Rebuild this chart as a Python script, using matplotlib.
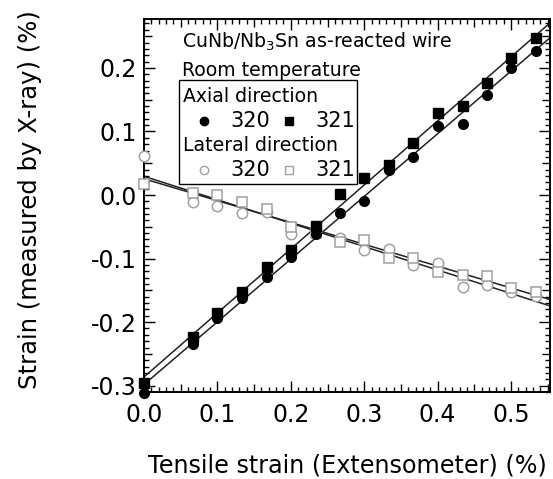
import numpy as np
import matplotlib
matplotlib.use("Agg")
import matplotlib.pyplot as plt
from matplotlib.ticker import MultipleLocator, FormatStrFormatter
from matplotlib.patches import Rectangle

plt.rcParams['font.family'] = ['DejaVu Sans']

# Tensile strain from the extensometer (%)
ext_strain = [0.0, 0.067, 0.100, 0.134, 0.167, 0.200, 0.234, 0.267,
              0.300, 0.334, 0.367, 0.400, 0.434, 0.467, 0.500, 0.534]

# Axial lattice strain by X-ray (%)
axial_320 = [-0.312, -0.235, -0.194, -0.162, -0.129, -0.098, -0.062, -0.028,
             -0.010, 0.040, 0.060, 0.108, 0.112, 0.157, 0.200, 0.227]
axial_321 = [-0.296, -0.224, -0.186, -0.153, -0.113, -0.087, -0.049, 0.002,
             0.026, 0.047, 0.082, 0.129, 0.140, 0.176, 0.216, 0.247]

# Lateral lattice strain by X-ray (%)
lateral_320 = [0.062, -0.011, -0.017, -0.028, -0.026, -0.062, -0.056, -0.067,
               -0.086, -0.085, -0.110, -0.107, -0.144, -0.142, -0.152, -0.159]
lateral_321 = [0.017, 0.003, 0.000, -0.011, -0.022, -0.050, -0.060, -0.074,
               -0.071, -0.099, -0.099, -0.121, -0.126, -0.128, -0.147, -0.152]

x_ticks = [0.0, 0.1, 0.2, 0.3, 0.4, 0.5]
y_ticks = [-0.3, -0.2, -0.1, 0.0, 0.1, 0.2]

fig = plt.figure(figsize=(5.53, 4.79), dpi=100)
ax = fig.add_axes([144 / 553, 87 / 479, 406 / 553, 373 / 479])
ax.set_xlim(0.0, 0.553)
ax.set_ylim(-0.310, 0.277)

x = np.array(ext_strain)
xfit = np.array(ax.get_xlim())
gray = '#a0a0a0'

# linear fits
for series in (axial_320, axial_321, lateral_320, lateral_321):
    k, b = np.polyfit(x, series, 1)
    ax.plot(xfit, k * xfit + b, color='#222222', lw=1.1, zorder=2)

ax.plot(x, axial_320, 'o', color='black', ms=7, clip_on=False, zorder=4)
ax.plot(x, axial_321, 's', color='black', ms=6.5, clip_on=False, zorder=4)
ax.plot(x, lateral_320, 'o', mfc='white', mec=gray, mew=1.1, ms=7.5,
        clip_on=False, zorder=3)
ax.plot(x, lateral_321, 's', mfc='white', mec=gray, mew=1.1, ms=7.5,
        clip_on=False, zorder=3)

# axes styling
for s in ax.spines.values():
    s.set_linewidth(1.4)
ax.set_xticks(x_ticks)
ax.set_yticks(y_ticks)
ax.xaxis.set_major_formatter(FormatStrFormatter('%.1f'))
ax.yaxis.set_major_formatter(FormatStrFormatter('%.1f'))
ax.xaxis.set_minor_locator(MultipleLocator(0.01))
ax.yaxis.set_minor_locator(MultipleLocator(0.01))
ax.tick_params(which='both', direction='in', top=True, right=True,
               labelsize=17, width=1.0)
ax.tick_params(which='major', length=8)
ax.tick_params(which='minor', length=3.5)
ax.tick_params(axis='x', which='major', pad=8)
ax.tick_params(axis='y', which='major', pad=5)

fig.canvas.draw()
for axis in (ax.xaxis, ax.yaxis):
    locs = axis.get_minorticklocs()
    for loc, tick in zip(locs, axis.get_minor_ticks(len(locs))):
        if abs(round(loc / 0.05) * 0.05 - loc) < 1e-6:
            tick.tick1line.set_markersize(6)
            tick.tick2line.set_markersize(6)

ax.set_xlabel('Tensile strain (Extensometer) (%)', fontsize=17.2)
ax.set_ylabel('Strain (measured by X-ray) (%)', fontsize=17.5)
ax.xaxis.set_label_coords(0.50, -0.164)
ax.yaxis.set_label_coords(-0.251, 0.515)

# annotation and key
tf = ax.transAxes
fs = 13.6
ax.text(0.094, 0.938, 'CuNb/Nb$_3$Sn as-reacted wire', transform=tf,
        fontsize=fs, va='center', ha='left')
ax.text(0.094, 0.863, 'Room temperature', transform=tf,
        fontsize=fs, va='center', ha='left')
ax.add_patch(Rectangle((0.086, 0.558), 0.438, 0.279, transform=tf,
                       fill=False, lw=1.0, ec='black', zorder=5))
ax.text(0.096, 0.791, 'Axial direction', transform=tf, fontsize=fs,
        va='center', ha='left')
ax.text(0.096, 0.662, 'Lateral direction', transform=tf, fontsize=fs,
        va='center', ha='left')
row1, row2 = 0.727, 0.595
ax.plot([0.148], [row1], 'o', color='black', ms=6, transform=tf)
ax.plot([0.357], [row1], 's', color='black', ms=5.5, transform=tf)
ax.plot([0.148], [row2], 'o', mfc='white', mec=gray, mew=1.0, ms=6,
        transform=tf)
ax.plot([0.357], [row2], 's', mfc='white', mec=gray, mew=1.0, ms=6,
        transform=tf)
for xx, lab in ((0.212, '320'), (0.421, '321')):
    ax.text(xx, row1, lab, transform=tf, fontsize=15, va='center')
    ax.text(xx, row2, lab, transform=tf, fontsize=15, va='center')

fig.savefig('out.png', dpi=100)
